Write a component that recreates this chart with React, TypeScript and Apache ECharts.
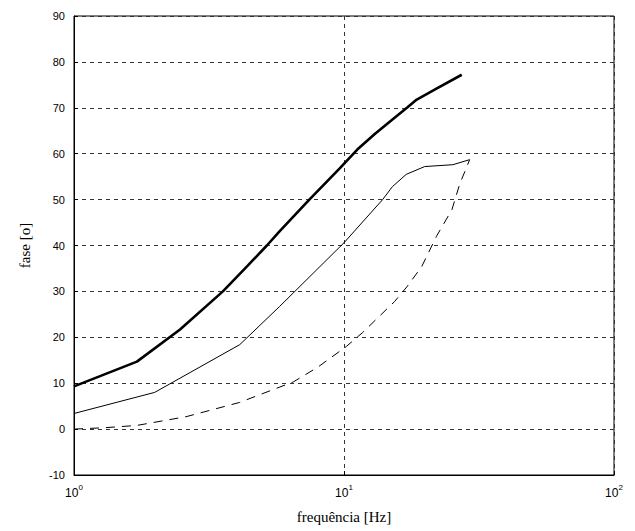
import React, { useEffect, useRef } from "react";
import * as echarts from "echarts";

const thickFreq = [1, 1.71, 2.47, 3.56, 4.4, 5.18, 5.77, 7.44, 9.64, 11.2, 13, 15, 17.1, 18.6, 22, 27.3];
const thickPhase = [9.3, 14.7, 21.7, 30, 35.6, 40, 43.1, 50, 56.8, 60.9, 64.3, 67.3, 70, 71.8, 74.2, 77.2];

const thinFreq = [1, 1.99, 4.11, 5.77, 10, 13.9, 15.1, 17, 19.9, 25.3, 29.2];
const thinPhase = [3.4, 8, 18.4, 26.7, 40.6, 50, 52.8, 55.5, 57.2, 57.6, 58.7];

const dashFreq = [1, 1.3, 1.71, 2.6, 4.1, 6.5, 8, 10.2, 11.7, 15.4, 17.1, 19.4, 22, 25.1, 26.8, 29.2];
const dashPhase = [0, 0.3, 0.8, 2.7, 5.8, 10.3, 13.5, 18, 21, 27.8, 31, 35.4, 42, 47.8, 53.3, 58.7];

const yTicks = { min: -10, max: 90, interval: 10 };
const xRange = { min: 1, max: 100 };

const zip = (xs: number[], ys: number[]) => xs.map((x, i) => [x, ys[i]]);

export default function App() {
  const ref = useRef<HTMLDivElement>(null);
  useEffect(() => {
    if (!ref.current) return;
    const chart = echarts.init(ref.current, undefined, { renderer: "svg" });
    const gridDash = { color: "#333", width: 1, type: [4, 4] as any };
    chart.setOption({
      animation: false,
      backgroundColor: "#fff",
      grid: {
        left: 74,
        right: 21,
        top: 16,
        bottom: 56,
        show: true,
        borderColor: "#000",
        borderWidth: 1,
        backgroundColor: "transparent",
      },
      xAxis: {
        type: "log",
        logBase: 10,
        min: xRange.min,
        max: xRange.max,
        name: "frequência [Hz]",
        nameLocation: "middle",
        nameGap: 34,
        nameTextStyle: { fontFamily: "Liberation Serif", fontSize: 15, color: "#000" },
        axisLine: { show: true, onZero: false, lineStyle: { color: "#000", width: 1 } },
        axisTick: { show: true, inside: true, length: 4, lineStyle: { color: "#000" } },
        minorTick: { show: false },
        splitLine: { show: true, lineStyle: gridDash },
        axisLabel: {
          showMinLabel: true,
          showMaxLabel: true,
          margin: 8,
          formatter: (v: number) => `{b|10}{s|${Math.round(Math.log10(v))}}`,
          rich: {
            b: { fontFamily: "Liberation Sans", fontSize: 12, color: "#000" },
            s: { fontFamily: "Liberation Sans", fontSize: 8, color: "#000", padding: [0, 0, 11, 0] },
          },
        },
      },
      yAxis: {
        type: "value",
        min: yTicks.min,
        max: yTicks.max,
        interval: yTicks.interval,
        name: "fase [o]",
        nameLocation: "middle",
        nameGap: 42,
        nameRotate: 90,
        nameTextStyle: { fontFamily: "Liberation Serif", fontSize: 15, color: "#000" },
        axisLine: { show: true, onZero: false, lineStyle: { color: "#000", width: 1 } },
        axisTick: { show: true, inside: true, length: 4, lineStyle: { color: "#000" } },
        splitLine: { show: true, lineStyle: gridDash },
        axisLabel: { fontFamily: "Liberation Sans", fontSize: 11, color: "#000", margin: 9 },
      },
      series: [
        {
          type: "line",
          data: zip(thickFreq, thickPhase),
          showSymbol: false,
          lineStyle: { color: "#000", width: 2.6 },
        },
        {
          type: "line",
          data: zip(thinFreq, thinPhase),
          showSymbol: false,
          lineStyle: { color: "#000", width: 1 },
        },
        {
          type: "line",
          data: zip(dashFreq, dashPhase),
          showSymbol: false,
          lineStyle: { color: "#000", width: 1, type: [9, 7] },
        },
      ],
    });
    return () => chart.dispose();
  }, []);
  return (
    <div
      ref={ref}
      style={{ position: "fixed", left: 0, top: 0, width: 635, height: 531, background: "#fff" }}
    />
  );
}
